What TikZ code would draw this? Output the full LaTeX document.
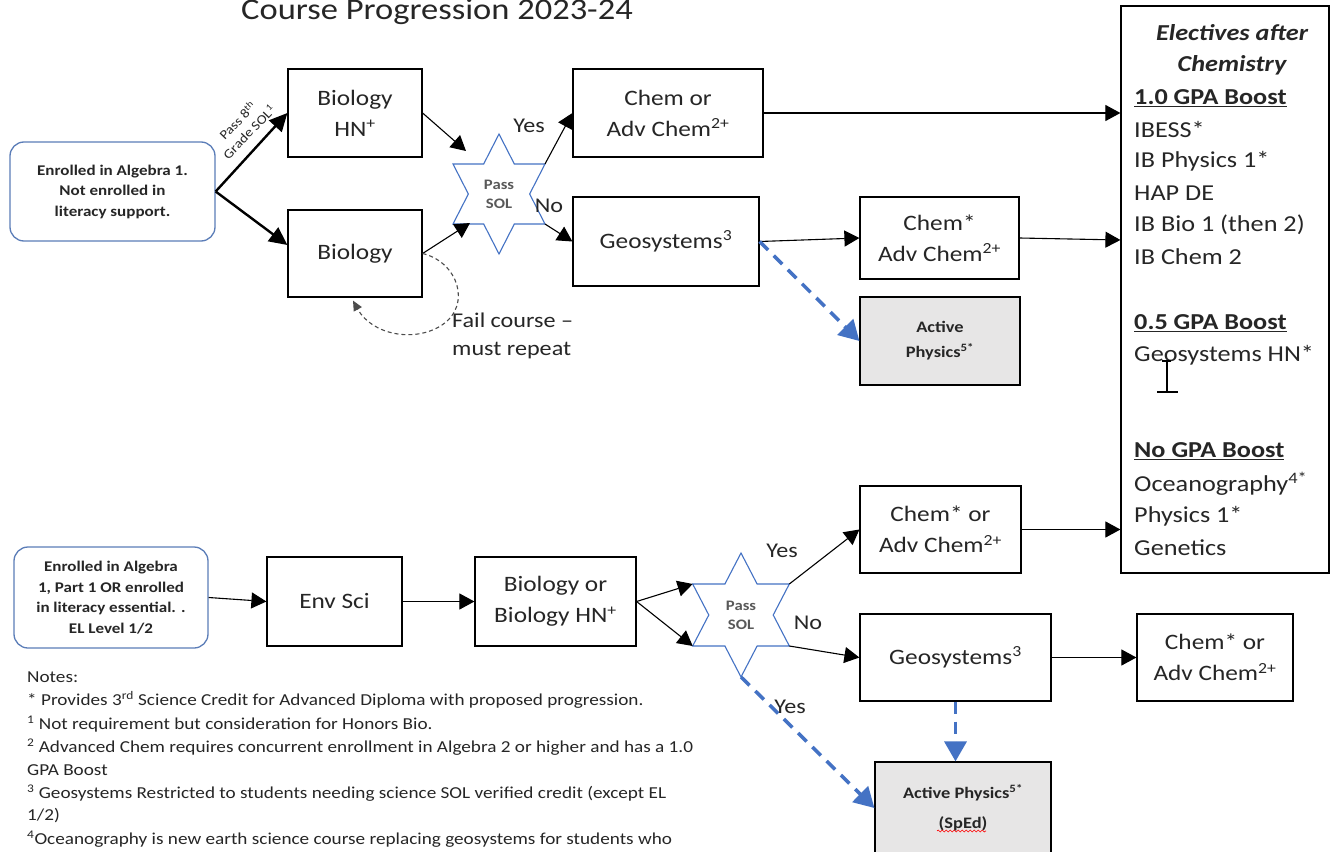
\documentclass[tikz,border=0pt]{standalone}
\usepackage{fontspec}
\setmainfont{Carlito}[FakeStretch=1.15]
\usetikzlibrary{arrows.meta,calc,decorations.pathmorphing}
\definecolor{accent}{HTML}{4472C4}
\definecolor{roundline}{HTML}{5B7DB8}
\definecolor{physfill}{HTML}{E7E6E6}
\definecolor{soltext}{HTML}{595959}
\definecolor{ink}{HTML}{262626}
\tikzset{
  course/.style={draw, line width=1.2pt, align=center, inner sep=0pt, text=ink,
    font=\fontsize{22}{31}\selectfont},
  startbox/.style={draw=roundline, line width=1.3pt, rounded corners=14pt, align=center,
    inner sep=0pt, text=ink, font=\bfseries\fontsize{14.8}{20.5}\selectfont},
  physbox/.style={course, fill=physfill, font=\bfseries\fontsize{16}{25}\selectfont},
  flow/.style={line width=1.1pt, -{Triangle[length=15pt,width=16pt]}},
  boldflow/.style={line width=2.4pt, -{Triangle[length=18pt,width=17pt]}},
  blueflow/.style={draw=accent, line width=3.5pt, dash pattern=on 12pt off 8pt,
    -{Triangle[length=20pt,width=22pt]}},
  loopflow/.style={draw=black!70, line width=1.1pt, dash pattern=on 4pt off 3pt,
    -{Triangle[length=10pt,width=9pt]}},
  lbl/.style={inner sep=0pt, text=ink, font=\fontsize{21}{28}\selectfont},
  sollbl/.style={inner sep=0pt, align=center, text=soltext, font=\bfseries\fontsize{14.5}{19}\selectfont},
  elec/.style={anchor=west, inner sep=0pt, text=ink, font=\fontsize{22.8}{28}\selectfont},
  elechead/.style={inner sep=0pt, text=ink, font=\bfseries\itshape\fontsize{22.8}{28}\selectfont},
  note/.style={anchor=west, inner sep=0pt, text=ink, font=\fontsize{16.7}{20}\selectfont},
  pics/hexstar/.style args={#1/#2}{code={
    \draw[accent, line width=1.1pt, line join=miter]
      (0,{-#1}) -- ({#2*#1*0.2887},{-#1*0.5}) -- ({#2*#1*0.866},{-#1*0.5})
      -- ({#2*#1*0.5774},0) -- ({#2*#1*0.866},{#1*0.5}) -- ({#2*#1*0.2887},{#1*0.5})
      -- (0,#1) -- ({-#2*#1*0.2887},{#1*0.5}) -- ({-#2*#1*0.866},{#1*0.5})
      -- ({-#2*#1*0.5774},0) -- ({-#2*#1*0.866},{-#1*0.5}) -- ({-#2*#1*0.2887},{-#1*0.5})
      -- cycle;
    \coordinate (-c) at (0,0);
    \coordinate (-ur) at ({#2*#1*0.866},{-#1*0.5});
    \coordinate (-lr) at ({#2*#1*0.866},{#1*0.5});
    \coordinate (-ul) at ({-#2*#1*0.866},{-#1*0.5});
    \coordinate (-ll) at ({-#2*#1*0.866},{#1*0.5});
    \coordinate (-bot) at (0,#1);
  }}
}
\begin{document}
\begin{tikzpicture}[x=1pt,y=-1pt]
\useasboundingbox[fill=white] (0,0) rectangle (1330,851);

% title
\node[inner sep=0pt, anchor=base, text=ink, font=\fontsize{30}{36}\selectfont] (title) at (437,20) {Course Progression 2023-24};

% ---------- top section ----------
\node[startbox, minimum width=205pt, minimum height=99pt] (A) at (112.5,191.5)
  {Enrolled in Algebra 1.\\Not enrolled in\\literacy support.};
\node[course, minimum width=134pt, minimum height=88pt] (bioHN) at (355,113) {Biology\\HN\textsuperscript{+}};
\node[course, minimum width=134pt, minimum height=87pt] (bio) at (355,253.5) {Biology};
\node[course, minimum width=190pt, minimum height=88pt] (chemOr) at (668,113) {Chem or\\Adv Chem\textsuperscript{2+}};
\node[course, minimum width=186pt, minimum height=89pt] (geo) at (666,241.5) {Geosystems\textsuperscript{3}};
\node[course, minimum width=159pt, minimum height=82pt] (chemStar) at (939.5,238) {Chem*\\Adv Chem\textsuperscript{2+}};
\node[physbox, minimum width=160pt, minimum height=88pt] (act1) at (940,341) {Active\\Physics\textsuperscript{5*}};
\node[draw, line width=1.2pt, minimum width=208pt, minimum height=567pt, inner sep=0pt] (elect) at (1225,289.5) {};

\pic (s1) at (499,194) {hexstar=60/0.885};
\node[sollbl] (sol1) at (499,194) {Pass\\SOL};

\draw[boldflow] (A.east) -- (bioHN.west);
\draw[boldflow] (A.east) -- ([yshift=8.5pt]bio.west);
\node[inner sep=0pt, align=center, rotate=46, text=ink, font=\fontsize{13}{16}\selectfont] (pass8) at (243,126)
  {Pass 8\textsuperscript{th}\\Grade SOL\textsuperscript{1}};

\draw[flow] (bioHN.east) -- ($(s1-c)+(-33,-43)$);
\draw[flow] (bio.east) -- ($(s1-c)+(-29,29)$);
\draw[flow] (s1-ur) -- (chemOr.west);
\draw[flow] (s1-lr) -- (geo.west);
\node[lbl] (yes1) at (529,126) {Yes};
\node[lbl] (no1) at (549,206) {No};

\draw[flow] (chemOr.east) -- (elect.west |- chemOr.east);
\draw[flow] (geo.east) -- (chemStar.west);
\draw[flow] (chemStar.east) -- ([yshift=-2pt]elect.west |- chemStar.east);
\draw[blueflow] (geo.east) -- (act1.west);

\draw[loopflow] (bio.east) .. controls (458,262) and (472,305) .. (442,325)
  .. controls (415,343) and (372,335) .. ([xshift=-2pt,yshift=-3pt]bio.south);
\node[lbl, anchor=west, align=left] (fail) at (452,336) {Fail course --\\must repeat};

% electives list
\node[elechead] (eh1) at (1232,33) {Electives after};
\node[elechead] (eh2) at (1232,65) {Chemistry};
\node[elec] (e1) at (1134,98) {\textbf{\underline{1.0 GPA Boost}}};
\node[elec] (e2) at (1134,129) {IBESS*};
\node[elec] (e3) at (1134,161) {IB Physics 1*};
\node[elec] (e4) at (1134,193) {HAP DE};
\node[elec] (e5) at (1134,225) {IB Bio 1 (then 2)};
\node[elec] (e6) at (1134,257) {IB Chem 2};
\node[elec] (e7) at (1134,323) {\textbf{\underline{0.5 GPA Boost}}};
\node[elec] (e8) at (1134,355) {Geosystems HN*};
\node[elec] (e9) at (1134,451) {\textbf{\underline{No GPA Boost}}};
\node[elec] (e10) at (1134,484) {Oceanography\textsuperscript{4*}};
\node[elec] (e11) at (1134,516) {Physics 1*};
\node[elec] (e12) at (1134,548) {Genetics};
% text cursor
\draw[line width=1.4pt] (1162,361) -- (1171,361) (1167,361) -- (1167,392) (1157,392) -- (1178,392);

% ---------- bottom section ----------
\node[startbox, minimum width=194pt, minimum height=101pt] (B) at (111,597.5)
  {Enrolled in Algebra\\1, Part 1 OR enrolled\\in literacy essential. .\\EL Level 1/2};
\node[course, minimum width=135pt, minimum height=89pt] (env) at (334.5,601.5) {Env Sci};
\node[course, minimum width=161pt, minimum height=89pt] (bioOr) at (555.5,601.5) {Biology or\\Biology HN\textsuperscript{+}};
\node[course, minimum width=161pt, minimum height=87pt] (chemOr2) at (940.5,529.5) {Chem* or\\Adv Chem\textsuperscript{2+}};
\node[course, minimum width=191pt, minimum height=87pt] (geo2) at (955.5,657.5) {Geosystems\textsuperscript{3}};
\node[course, minimum width=156pt, minimum height=87pt] (chem3) at (1215,657.5) {Chem* or\\Adv Chem\textsuperscript{2+}};
\node[physbox, minimum width=176pt, minimum height=92pt, font=\bfseries\fontsize{16}{30}\selectfont] (act2) at (963,808)
  {Active Physics\textsuperscript{5*}\\(SpEd)};
\draw[red, line width=0.6pt, decorate, decoration={snake, amplitude=1pt, segment length=4pt}] (937,831) -- (986,831);

\pic (s2) at (741,615) {hexstar=62/0.9};
\node[sollbl] (sol2) at (741,615) {Pass\\SOL};

\draw[flow] (B.east) -- (env.west);
\draw[flow] (env.east) -- (bioOr.west);
\draw[flow] (bioOr.east) -- (s2-ul);
\draw[flow] (bioOr.east) -- (s2-ll);
\draw[flow] (s2-ur) -- (chemOr2.west);
\draw[flow] (s2-lr) -- (geo2.west);
\draw[flow] (chemOr2.east) -- (elect.west |- chemOr2.east);
\draw[flow] (geo2.east) -- (chem3.west);
\draw[blueflow] (geo2.south) -- (geo2.south |- act2.north);
\draw[blueflow] (s2-bot) -- (act2.west);
\node[lbl] (yes2) at (782,551) {Yes};
\node[lbl] (no2) at (808,623) {No};
\node[lbl] (yes3) at (790,707) {Yes};

% notes
\node[note] (n0) at (27,677) {Notes:};
\node[note] (n1) at (27,700) {* Provides 3\textsuperscript{rd} Science Credit for Advanced Diploma with proposed progression.};
\node[note] (n2) at (27,724) {\textsuperscript{1} Not requirement but consideration for Honors Bio.};
\node[note] (n3) at (27,747) {\textsuperscript{2} Advanced Chem requires concurrent enrollment in Algebra 2 or higher and has a 1.0};
\node[note] (n4) at (27,770) {GPA Boost};
\node[note] (n5) at (27,793) {\textsuperscript{3} Geosystems Restricted to students needing science SOL verified credit (except EL};
\node[note] (n6) at (27,816) {1/2)};
\node[note] (n7) at (27,839) {\textsuperscript{4}Oceanography is new earth science course replacing geosystems for students who};
\end{tikzpicture}
\end{document}
